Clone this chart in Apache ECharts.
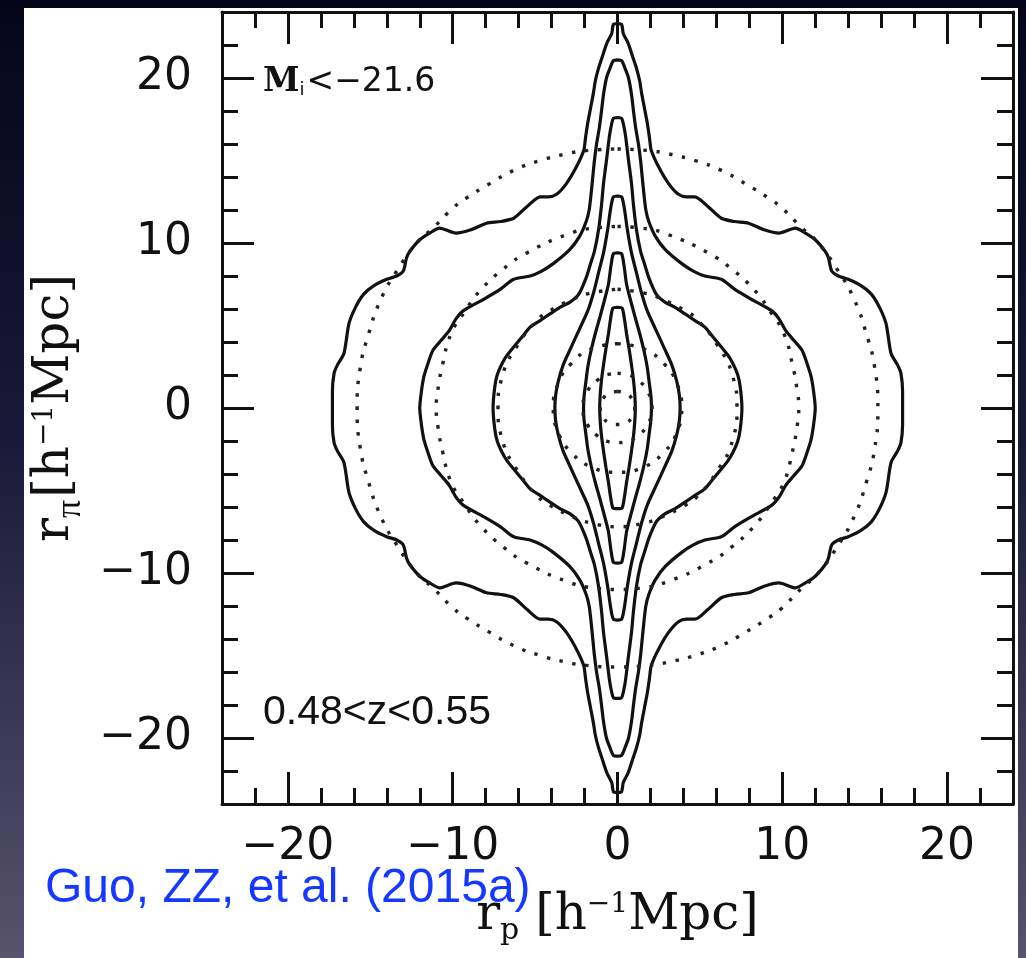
<!DOCTYPE html>
<html>
<head>
<meta charset="utf-8">
<script src="https://cdn.jsdelivr.net/npm/echarts@6/dist/echarts.min.js"></script>
<style>
html, body { margin: 0; padding: 0; }
body {
  width: 1026px; height: 958px; overflow: hidden; position: relative;
  background: linear-gradient(180deg, #05051a 0%, #191838 45%, #57536e 100%);
}
#panel { position: absolute; left: 24px; top: 8px; width: 994px; height: 950px; background: #fff; }
#main { position: absolute; left: 0; top: 0; width: 1026px; height: 958px; }
</style>
</head>
<body>
<div id="panel"></div>
<div id="main"></div>
<script>
// axis range and labelled ticks (h^-1 Mpc)
const axisMin = -24;
const axisMax = 24;
const tickLabels = [-20, -10, 0, 10, 20];

// solid contours: upper right quadrant, [r_p, r_pi], from top tip to r_pi = 0
const solid1 = [[0,23.3],[0.25,23.25],[0.35,22.7],[0.65,22.1],[0.95,21.2],[1.15,20.6],[1.35,19.8],[1.46,19.1],[1.65,18.1],[1.82,17.2],[1.95,16.3],[2.05,15.6],[2.5,14.6],[3.1,13.6],[3.7,12.95],[4.2,12.8],[4.7,12.8],[5.5,12.2],[6.3,11.5],[7.1,11.3],[7.95,11.2],[8.9,10.8],[9.8,10.6],[10.8,10.9],[11.4,10.6],[12.0,10.2],[12.6,9.5],[12.8,9.1],[13.0,8.3],[13.4,8.0],[14.0,7.8],[14.8,7.4],[15.4,6.9],[15.9,6.1],[16.3,5.1],[16.6,3.3],[17.0,2.6],[17.2,2.1],[17.3,1.0],[17.3,0]];
const solid2 = [[0,21.1],[0.25,21.05],[0.45,20.6],[0.67,20.0],[0.85,19.0],[0.97,18.0],[1.1,17.0],[1.27,16.0],[1.4,15.0],[1.5,14.0],[1.6,13.0],[1.72,12.0],[1.9,11.3],[2.3,10.4],[2.9,9.6],[3.9,8.75],[4.6,8.3],[5.3,8.0],[6.3,7.8],[7.1,7.2],[8.1,6.6],[9.35,5.9],[9.8,5.4],[10.2,4.7],[10.7,4.1],[11.2,3.5],[11.5,2.7],[11.75,1.9],[11.9,1.0],[12.0,0]];
const solid3 = [[0,17.6],[0.25,17.55],[0.4,17.0],[0.5,16.4],[0.67,15.0],[0.85,13.6],[0.97,12.3],[1.15,10.8],[1.4,9.5],[1.65,8.7],[1.9,7.9],[2.35,6.9],[2.9,6.4],[3.5,6.1],[4.1,5.7],[4.7,5.3],[5.3,4.9],[5.8,4.3],[6.3,3.7],[6.7,3.2],[7.0,2.7],[7.3,2.0],[7.45,1.26],[7.55,0]];
const solid4 = [[0,12.85],[0.25,12.8],[0.4,12.2],[0.6,10.8],[0.85,9.4],[1.15,8.2],[1.45,7.0],[1.8,5.9],[2.3,4.8],[2.85,3.6],[3.3,2.6],[3.6,1.6],[3.75,0.8],[3.8,0]];
const solid5 = [[0,9.4],[0.25,9.35],[0.4,8.6],[0.55,7.5],[0.8,6.5],[1.07,5.5],[1.35,4.5],[1.6,3.5],[1.8,2.5],[1.93,1.5],[2.03,0.7],[2.06,0]];
const solid6 = [[0,6.1],[0.28,6.05],[0.42,5.4],[0.55,4.5],[0.7,3.6],[0.85,2.6],[0.97,1.7],[1.05,0.8],[1.08,0]];

// dotted (model) contours, same quadrant
const dotted1 = [[0,15.7],[1.9,15.6],[3.1,15.4],[4.7,15.0],[6.3,14.4],[7.75,13.6],[9.2,12.7],[9.95,12.15],[11.2,10.9],[12.1,10.1],[13.4,8.3],[14.4,6.5],[15.1,4.5],[15.6,2.5],[15.8,0]];
const dotted2 = [[0,11.0],[1.5,10.9],[3.1,10.5],[5.5,9.4],[6.9,8.45],[8.35,7.1],[9.3,5.8],[10.1,4.5],[10.6,2.7],[10.9,1.1],[11.0,0]];
const dotted3 = [[0,7.2],[1.7,6.95],[2.7,6.6],[4.1,5.9],[4.8,5.4],[6.0,3.9],[7.0,1.9],[7.25,0]];
const dotted4 = [[0,3.9],[1.65,3.55],[2.8,2.7],[3.55,1.6],[3.9,0]];
const dotted5 = [[0,2.1],[0.5,2.05],[1.2,1.7],[1.8,1.05],[2.1,0]];
const dotted6 = [[0,1.0],[0.45,0.92],[0.85,0.6],[1.05,0]];

// the measurement is shown reflected into all four quadrants
function loop(q) {
  const a = q.map(p => [p[0], p[1]]);
  const b = q.slice().reverse().map(p => [p[0], -p[1]]);
  const c = q.map(p => [-p[0], -p[1]]);
  const d = q.slice().reverse().map(p => [-p[0], p[1]]);
  return a.concat(b, c, d);
}

const ink = '#111';

function tickLabel(v) {
  if (tickLabels.indexOf(v) < 0) return '';
  return v < 0 ? '\u2212' + Math.abs(v) : String(v);
}

function axis(position, showLabel, margin, extra) {
  return Object.assign({
    type: 'value', min: axisMin, max: axisMax, position: position, splitNumber: 5,
    axisLine: { show: true, onZero: false, lineStyle: { color: ink, width: 3 } },
    axisTick: { show: true, inside: true, length: 32, lineStyle: { color: ink, width: 3 } },
    minorTick: { show: true, splitNumber: 5, length: 16, lineStyle: { color: ink, width: 3 } },
    splitLine: { show: false },
    minorSplitLine: { show: false },
    axisLabel: {
      show: showLabel, showMinLabel: false, showMaxLabel: false, margin: margin,
      fontFamily: 'DejaVu Sans', fontSize: 44, color: ink, formatter: tickLabel
    }
  }, extra || {});
}

const titleRich = {
  t: { fontFamily: 'DejaVu Serif', fontSize: 50, color: ink },
  sub: { fontFamily: 'DejaVu Serif', fontSize: 30, color: ink, padding: [30, 0, 0, 0] },
  pi: { fontFamily: 'Liberation Serif', fontSize: 36, color: ink, padding: [30, 2, 0, 0] },
  sup: { fontFamily: 'DejaVu Serif', fontSize: 28, color: ink, padding: [0, 0, 22, 0] }
};

const series = [];
[solid1, solid2, solid3, solid4, solid5, solid6].forEach(q => {
  series.push({
    type: 'line', data: loop(q), showSymbol: false, smooth: 0.25,
    lineStyle: { color: ink, width: 3.2 }, silent: true
  });
});
[dotted1, dotted2, dotted3, dotted4, dotted5, dotted6].forEach(q => {
  series.push({
    type: 'line', data: loop(q), showSymbol: false, smooth: true,
    lineStyle: { color: '#222', width: 3.4, type: [3.4, 9.6] }, silent: true
  });
});

const chart = echarts.init(document.getElementById('main'));
chart.setOption({
  animation: false,
  backgroundColor: 'transparent',
  grid: { left: 222, top: 12, width: 791, height: 792, outerBoundsMode: 'none', containLabel: false },
  xAxis: [
    axis('bottom', true, 22, {
      name: '{t|r}{sub|p} {t|[h}{sup|\u22121}{t|Mpc]}',
      nameLocation: 'middle', nameGap: 82,
      nameTextStyle: { fontFamily: 'DejaVu Serif', fontSize: 50, color: ink, rich: titleRich }
    }),
    axis('top', false, 8)
  ],
  yAxis: [
    axis('left', true, 30, {
      name: '{t|r}{pi|\u03c0}{t|[h}{sup|\u22121}{t|Mpc]}',
      nameLocation: 'middle', nameGap: 126, nameRotate: 90,
      nameTextStyle: { fontFamily: 'DejaVu Serif', fontSize: 50, color: ink, rich: titleRich }
    }),
    axis('right', false, 8)
  ],
  graphic: [
    {
      type: 'text', x: 263, y: 82, z: 100,
      style: {
        text: '{m|M}{s|i}{t|<\u221221.6}', verticalAlign: 'middle', align: 'left',
        rich: {
          m: { fontFamily: 'DejaVu Serif', fontSize: 33, fontWeight: 'bold', fill: ink },
          s: { fontFamily: 'DejaVu Sans', fontSize: 18, fill: ink, padding: [16, 2, 0, 0] },
          t: { fontFamily: 'DejaVu Sans', fontSize: 33, fill: ink }
        }
      }
    },
    {
      type: 'text', x: 263, y: 713, z: 100,
      style: { text: '0.48<z<0.55', font: '41px "Liberation Sans"', fill: ink, verticalAlign: 'middle', align: 'left' }
    },
    {
      type: 'text', x: 45, y: 889, z: 100,
      style: { text: 'Guo, ZZ, et al. (2015a)', font: '48px "Liberation Sans"', fill: '#1438ff', verticalAlign: 'middle', align: 'left' }
    }
  ],
  series: series
});
</script>
</body>
</html>
